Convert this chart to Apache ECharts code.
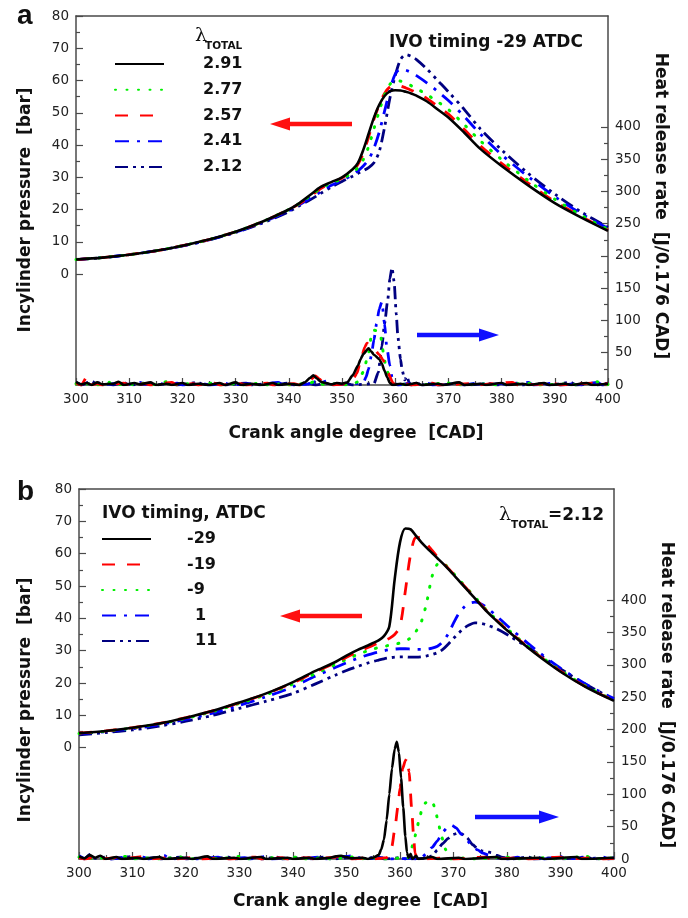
<!DOCTYPE html>
<html><head><meta charset="utf-8">
<script src="https://cdn.jsdelivr.net/npm/echarts@6/dist/echarts.min.js"></script>
<style>html,body{margin:0;padding:0;background:#fff}#c{width:688px;height:918px}</style>
</head><body><div id="c"></div>
<script>
// ---------- DATA ----------
const CAD_A = [300,305,310,315,320,325,330,335,340,342,344,346,348,350,352,353,354,355,356,357,358,359,360,361,362,363,364,366,368,370,373,376,380,385,390,395,400];
const P_A_291 = [4.5,5.1,6.0,7.2,8.8,10.7,13.1,16.2,20.0, 22.0,24.5,27.0,28.5,30.0, 32.5,34.5,38.5,43.5,48.5,52.5,55.2,56.6,57.0, 56.9,56.5,56.0,55.3, 53.5,51.0,48.5,43.8,38.8,33.5, 27.5,22.0,17.5,13.4];
const P_A_277 = [4.5,5.1,6.0,7.2,8.8,10.7,13.1,16.2,20.0, 21.9,24.2,26.6,28.2,29.5, 31.5,33.0,35.5,39.5,45.0,50.5,55.5,58.8,60.0, 59.8,59.2,58.4,57.5, 55.6,53.4,51.0,46.3,41.3,35.5, 29.0,23.2,18.2,13.8];
const P_A_257 = [4.5,5.1,6.0,7.2,8.8,10.7,13.1,16.2,20.0, 21.8,24.0,26.5,28.3,29.8, 32.0,34.0,37.5,42.5,48.0,52.5,56.0,58.0,58.6, 58.3,57.7,57.0,56.2, 54.4,52.0,49.6,44.8,39.8,34.3, 28.2,22.5,17.8,13.6];
const P_A_241 = [4.5,5.1,6.0,7.2,8.7,10.6,13.0,16.0,19.6, 21.5,23.5,25.5,27.5,29.0, 30.8,32.0,33.5,35.5,39.0,44.0,50.5,57.0,62.0, 63.5,63.2,62.5,61.5, 59.2,56.6,53.8,48.8,43.4,37.0, 30.2,24.0,18.7,14.2];
const P_A_212 = [4.5,5.1,6.0,7.2,8.7,10.6,12.9,15.8,19.3, 21.2,23.0,25.0,27.0,28.7, 30.3,31.2,32.0,33.0,34.5,38.0,45.5,54.5,61.5, 66.5,68.0,67.5,66.5, 63.5,60.0,56.5,51.0,45.0,38.5, 31.2,24.8,19.2,14.5];

const CAD_B = [300,305,310,315,320,325,330,335,340,344,348,350,352,354,355,356,357,358,359,360,361,362,363,364,365,366,367,368,369,370,371,372,373,374,375,376,378,380,385,390,395,400];
const P_B_M29 = [4.5,5.2,6.2,7.5,9.3,11.4,14.0,16.8,20.3, 23.6,26.6,28.5,30.2,31.6, 32.4,33.2,34.5,37.5,52.0,63.5,67.8,67.5,65.5,63.5,61.8,60.2,58.6,57.0,55.3,53.5,51.7,49.8,48.0,46.2,44.3, 42.5,39.3,36.3, 29.5,23.5,18.5,14.5];
const P_B_M19 = [4.5,5.2,6.2,7.5,9.3,11.4,13.9,16.7,20.1, 23.3,26.3,28.0,29.6,31.0, 31.7,32.4,33.0,33.8,35.0,37.5,48.5,60.0,65.0,64.8,63.0,61.0,59.0,57.3,55.5,53.7,51.9,50.0,48.2,46.4,44.5, 42.7,39.5,36.5, 29.7,23.7,18.6,14.6];
const P_B_M9 = [4.4,5.1,6.1,7.4,9.1,11.2,13.7,16.4,19.7, 22.8,25.8,27.3,28.8,30.0, 30.5,31.0,31.3,31.7,32.0,32.4,33.0,34.0,36.0,39.0,45.0,53.0,56.8,57.2,55.6,53.9,52.1,50.2,48.4,46.6,44.7, 42.9,39.7,36.8, 29.9,23.9,18.8,14.7];
const P_B_1 = [4.3,5.0,5.9,7.1,8.8,10.7,13.1,15.8,18.8, 22.0,24.9,26.3,27.6,28.7, 29.2,29.6,30.0,30.3,30.5,30.6,30.6,30.5,30.4,30.4,30.5,30.8,31.4,32.8,35.2,38.5,41.5,43.5,44.7,45.0,44.6, 43.6,40.8,37.8, 30.8,24.6,19.4,15.2];
const P_B_11 = [4.0,4.7,5.5,6.7,8.2,10.0,12.2,14.4,16.8, 19.6,22.5,23.9,25.1,26.2, 26.7,27.1,27.5,27.8,28.0,28.1,28.1,28.0,28.0,28.1,28.4,28.8,29.4,30.4,32.0,33.8,35.5,37.0,38.0,38.6,38.5, 38.1,36.8,35.0, 29.9,24.4,19.3,15.0];

// heat release rate, [crank angle, J/0.176 CAD]
const HRR_A_291 = [[300,5],[301,1],[302,3],[303,0],[304,4],[305,1],[307,2],[308,5],[309,0],[311,3],[312,1],[314,4],[315,0],[317,2],[318,0],[320,3],[321,0],[323,2],[325,0],[327,3],[328,0],[330,4],[331,0],[333,2],[335,0],[337,3],[338,0],[340,2],[342,0],[343,4],[344,11],[344.6,15],[345.3,10],[346,5],[347,3],[348,1],[349,3],[350,2],[351,4],[352,15],[353,30],[353.5,40],[354,48],[355,57],[355.5,52],[356,47],[357,40],[357.5,33],[358,22],[358.5,12],[359,3],[359.5,0],[361,2],[362,0],[364,3],[365,0],[368,2],[369,0],[372,4],[373,0],[376,2],[377,0],[380,3],[381,0],[384,2],[385,0],[388,3],[389,0],[392,2],[393,0],[396,3],[397,0],[400,2]];
const HRR_A_277 = [[300,2],[301,0],[303,3],[304,0],[306,5],[307,0],[310,2],[311,0],[313,3],[314,0],[317,5],[318,0],[321,2],[322,0],[326,3],[327,0],[330,2],[331,0],[335,3],[336,0],[339,2],[340,0],[344,3],[345,6],[346,2],[347,0],[349,2],[350,0],[352,1],[353,5],[354,20],[355,50],[355.5,75],[356,85],[356.6,84],[357.2,78],[357.8,50],[358.2,30],[358.8,15],[359.5,3],[360,0],[363,2],[364,0],[370,3],[371,0],[378,2],[379,0],[386,3],[387,0],[393,2],[394,0],[398,5],[399,0],[400,1]];
const HRR_A_257 = [[300,3],[301,0],[302,12],[302.5,0],[304,2],[305,0],[309,3],[310,0],[313,2],[314,0],[318,4],[319,0],[322,2],[323,0],[326,3],[327,0],[331,2],[332,0],[336,3],[337,0],[341,2],[342,0],[343,2],[344,8],[345,14],[345.8,9],[346.5,3],[347.5,0],[350,1],[351,3],[352,8],[352.8,18],[353.5,38],[354.3,59],[354.7,65],[355.2,60],[356.2,54],[357,47],[357.7,39],[358.6,19],[359.6,3],[360,0],[362,2],[363,0],[367,3],[368,0],[374,2],[375,0],[382,4],[383,0],[390,2],[391,0],[397,3],[398,0],[400,2]];
const HRR_A_241 = [[300,4],[301,1],[302,3],[303,0],[305,5],[306,1],[308,3],[309,0],[312,4],[313,1],[316,2],[317,0],[319,3],[320,0],[324,2],[325,0],[328,3],[329,0],[333,2],[334,0],[338,4],[339,0],[343,1],[344,2],[345,5],[346,3],[347,6],[348,2],[350,1],[352,2],[353,2],[354,3],[354.5,12],[355,25],[355.5,45],[356,70],[356.5,95],[357,118],[357.5,129],[358,95],[358.4,60],[359,30],[359.4,12],[360,2],[360.5,0],[363,3],[364,1],[366,3],[367,0],[371,2],[372,0],[376,3],[377,1],[380,2],[381,0],[385,4],[386,0],[390,3],[391,0],[394,2],[395,0],[398,4],[399,0],[400,2]];
const HRR_A_212 = [[300,3],[301,0],[303,6],[304,0],[306,2],[307,0],[309,4],[310,0],[314,2],[315,0],[318,3],[319,0],[323,4],[324,0],[327,2],[328,0],[332,3],[333,0],[336,2],[337,0],[340,3],[341,0],[344,2],[345,0],[347,3],[348,0],[351,2],[352,0],[356,2],[356.8,19],[357.5,60],[358,95],[358.6,132],[359,165],[359.4,182],[359.8,160],[360.2,110],[360.5,75],[361,40],[361.3,23],[361.8,8],[362.2,14],[362.6,4],[363,0],[364,3],[365,0],[367,2],[368,0],[372,3],[373,0],[378,2],[379,0],[383,3],[384,0],[388,2],[389,0],[393,4],[394,0],[397,2],[398,0],[400,3]];

const HRR_B_M29 = [[300,4],[301,1],[302,6],[303,2],[304,5],[305,0],[307,3],[308,0],[311,2],[312,0],[315,3],[316,0],[320,2],[321,0],[324,4],[325,0],[329,2],[330,0],[334,3],[335,0],[339,2],[340,0],[343,2],[344,0],[347,2],[348,4],[349,5],[350,3],[351,1],[353,2],[354,0],[355,2],[356,6],[356.5,15],[357,30],[357.5,60],[358,100],[358.5,140],[359,170],[359.4,181],[359.8,165],[360.2,125],[360.6,80],[361,35],[361.3,10],[361.6,2],[362,8],[362.3,0],[363,5],[363.4,0],[366,3],[367,0],[371,2],[372,0],[378,3],[379,0],[386,2],[387,0],[393,3],[394,0],[400,2]];
const HRR_B_M19 = [[300,2],[301,0],[303,3],[304,0],[307,2],[308,0],[312,4],[313,0],[317,2],[318,0],[322,3],[323,0],[327,2],[328,0],[333,3],[334,0],[338,2],[339,0],[343,2],[344,0],[348,3],[349,4],[350,2],[351,0],[354,2],[355,0],[357.5,2],[358,8],[358.5,20],[359,45],[359.6,80],[360,110],[360.5,140],[361,152],[361.3,156],[361.7,135],[362.2,76],[362.5,40],[362.8,9],[363.2,2],[364,0],[369,2],[370,0],[376,3],[377,0],[383,2],[384,0],[390,3],[391,0],[397,2],[398,0],[400,1]];
const HRR_B_M9 = [[300,3],[301,0],[304,2],[305,0],[309,4],[310,0],[314,2],[315,0],[319,3],[320,0],[325,2],[326,0],[330,4],[331,0],[336,2],[337,0],[341,3],[342,0],[346,2],[347,0],[351,3],[352,0],[356,2],[357,0],[361,2],[361.5,2],[362,12],[362.5,25],[363,40],[363.6,62],[364.2,80],[364.8,87],[365.5,86],[366,89],[366.5,80],[367,63],[367.5,45],[368,30],[368.5,15],[369,3],[369.5,0],[373,2],[374,0],[380,3],[381,0],[388,2],[389,0],[395,4],[396,0],[400,2]];
const HRR_B_1 = [[300,5],[301,1],[302,3],[303,0],[305,4],[306,0],[308,2],[309,0],[312,3],[313,0],[316,5],[317,0],[321,2],[322,0],[326,3],[327,0],[331,2],[332,0],[335,4],[336,0],[340,2],[341,0],[345,3],[346,0],[350,4],[351,5],[352,3],[353,0],[357,2],[358,0],[362,1],[363,0],[364,2],[365,9],[366,18],[367,28],[367.5,34],[368,42],[369,50],[369.7,52],[370.5,48],[371.5,38],[372.5,29],[373.5,20],[374.5,14],[375.5,9],[376.5,6],[377.5,3],[378.5,1],[380,0],[382,3],[383,0],[386,2],[387,0],[390,4],[391,0],[394,2],[395,0],[398,3],[399,0],[400,2]];
const HRR_B_11 = [[300,3],[301,0],[302,7],[303,1],[305,3],[306,0],[310,4],[311,0],[314,2],[315,0],[319,3],[320,0],[323,2],[324,0],[328,3],[329,0],[333,2],[334,0],[337,3],[338,0],[342,2],[343,0],[346,3],[347,0],[351,2],[352,0],[356,3],[357,0],[360,2],[361,0],[365,1],[366,5],[367,14],[368,24],[369,32],[370,38],[370.8,40],[371.5,39],[372.5,33],[373.6,22],[374.5,16],[375.5,12],[376.3,11],[377,10],[378,6],[379,3],[380,1],[381,0],[384,3],[385,0],[389,2],[390,0],[395,3],[396,0],[400,2]];

const NAMES_A = ['2.91','2.77','2.57','2.41','2.12'];
const NAMES_B = ['-29','-19','-9','1','11'];
const P_TICKS = [0,10,20,30,40,50,60,70,80];
const P_MINOR = [5,15,25,35,45,55,65,75];
const H_TICKS = [0,50,100,150,200,250,300,350,400];
const H_MINOR = [25,75,125,175,225,275,325,375];

// ---------- STYLE ----------
const STY = {
  black: {color:'#000000', type:'solid', width:2.6},
  green: {color:'#00f000', type:[1,10.5], width:3, cap:'round'},
  red:   {color:'#ff0000', type:[13,12], width:2.8},
  blue:  {color:'#0000ff', type:[14,8,3,8], width:2.8},
  navy:  {color:'#000080', type:[13,5,3,5,3,5], width:2.8}
};
const FONT = 'DejaVu Sans';
const AX = '#4a4a4a';

function pairs(xs, ys){ return xs.map((x,i)=>[x, ys[i]]); }
function line(name, data, xi, yi, st, smooth, mono){
  const s = {type:'line', name, data, xAxisIndex:xi, yAxisIndex:yi, symbol:'none', showSymbol:false,
    smooth: smooth, animation:false, silent:true,
    itemStyle:{color:st.color},
    lineStyle:{color:st.color, type:st.type, width:st.width, cap:st.cap||'butt'}};
  if (mono) s.smoothMonotone = 'x';
  return s;
}
function xAx(gi, nameGap, pad){
  return [{gridIndex:gi, type:'value', min:300, max:400, interval:10, position:'bottom',
    axisLine:{show:true, onZero:false, lineStyle:{color:AX, width:1.5}},
    axisTick:{inside:true, length:7, lineStyle:{color:AX, width:1.2}},
    minorTick:{show:true, splitNumber:2, length:4, lineStyle:{color:AX, width:1.2}},
    splitLine:{show:false}, minorSplitLine:{show:false},
    axisLabel:{color:'#222', fontSize:13.5, fontFamily:FONT, margin:7},
    name:'Crank angle degree  [CAD]', nameLocation:'middle', nameGap:nameGap,
    nameTextStyle:{fontFamily:FONT, fontWeight:'bold', fontSize:17, color:'#111', padding:[0,0,0,pad]}},
   {gridIndex:gi, type:'value', min:300, max:400, position:'top',
    axisLine:{show:true, onZero:false, lineStyle:{color:AX, width:1.5}},
    axisTick:{show:false}, axisLabel:{show:false}, splitLine:{show:false}}];
}
function yAx(gi, lGap, lPad, rGap, rPad){
  return [
   {gridIndex:gi, type:'value', min:-34.4, max:80, position:'left',
    axisLine:{show:true, onZero:false, lineStyle:{color:AX, width:1.5}},
    axisTick:{inside:true, length:7, customValues:P_TICKS, lineStyle:{color:AX, width:1.2}},
    axisLabel:{customValues:P_TICKS, color:'#222', fontSize:13.5, fontFamily:FONT, margin:7},
    splitLine:{show:false},
    name:'Incylinder pressure  [bar]', nameLocation:'middle', nameRotate:90, nameGap:lGap,
    nameTextStyle:{fontFamily:FONT, fontWeight:'bold', fontSize:17, color:'#111', padding:[0,lPad,0,0]}},
   {gridIndex:gi, type:'value', min:-34.4, max:80, position:'left',
    axisLine:{show:false}, axisLabel:{show:false}, splitLine:{show:false},
    axisTick:{inside:true, length:4, customValues:P_MINOR, lineStyle:{color:AX, width:1.2}}},
   {gridIndex:gi, type:'value', min:0, max:572, position:'right',
    axisLine:{show:true, onZero:false, lineStyle:{color:AX, width:1.5}},
    axisTick:{inside:true, length:7, customValues:H_TICKS, lineStyle:{color:AX, width:1.2}},
    axisLabel:{customValues:H_TICKS, color:'#222', fontSize:13.5, fontFamily:FONT, margin:7},
    splitLine:{show:false},
    name:'Heat release rate  [J/0.176 CAD]', nameLocation:'middle', nameRotate:-90, nameGap:rGap,
    nameTextStyle:{fontFamily:FONT, fontWeight:'bold', fontSize:17, color:'#111', padding:[0,0,0,rPad]}},
   {gridIndex:gi, type:'value', min:0, max:572, position:'right',
    axisLine:{show:false}, axisLabel:{show:false}, splitLine:{show:false},
    axisTick:{inside:true, length:4, customValues:H_MINOR, lineStyle:{color:AX, width:1.2}}}
  ];
}
function arrow(tipX, y, tailX, color){
  const dir = tailX > tipX ? 1 : -1;
  const hx = tipX + dir*20;
  return {type:'polygon', silent:true, shape:{points:[[tipX,y],[hx,y-6.5],[hx,y-2.2],[tailX,y-2.2],[tailX,y+2.2],[hx,y+2.2],[hx,y+6.5]]},
    style:{fill:color}};
}
function txt(x, y, text, font, align){
  return {type:'text', x:x, y:y, silent:true, style:{text:text, font:font, fill:'#111', align:align||'left', verticalAlign:'middle'}};
}

const series = [
  line('2.12', pairs(CAD_A,P_A_212), 0, 0, STY.navy, 0.3),
  line('2.41', pairs(CAD_A,P_A_241), 0, 0, STY.blue, 0.3),
  line('2.57', pairs(CAD_A,P_A_257), 0, 0, STY.red, 0.3),
  line('2.77', pairs(CAD_A,P_A_277), 0, 0, STY.green, 0.3),
  line('2.91', pairs(CAD_A,P_A_291), 0, 0, STY.black, 0.3),
  line('2.12', HRR_A_212, 0, 2, STY.navy, 0.2, true),
  line('2.41', HRR_A_241, 0, 2, STY.blue, 0.2, true),
  line('2.77', HRR_A_277, 0, 2, STY.green, 0.2, true),
  line('2.57', HRR_A_257, 0, 2, STY.red, 0.2, true),
  line('2.91', HRR_A_291, 0, 2, STY.black, 0.2, true),
  line('11', pairs(CAD_B,P_B_11), 2, 4, STY.navy, 0.3),
  line('1', pairs(CAD_B,P_B_1), 2, 4, STY.blue, 0.3),
  line('-9', pairs(CAD_B,P_B_M9), 2, 4, STY.green, 0.3),
  line('-19', pairs(CAD_B,P_B_M19), 2, 4, STY.red, 0.3),
  line('-29', pairs(CAD_B,P_B_M29), 2, 4, STY.black, 0.3),
  line('11', HRR_B_11, 2, 6, STY.navy, 0.2, true),
  line('1', HRR_B_1, 2, 6, STY.blue, 0.2, true),
  line('-9', HRR_B_M9, 2, 6, STY.green, 0.2, true),
  line('-19', HRR_B_M19, 2, 6, STY.red, 0.2, true),
  line('-29', HRR_B_M29, 2, 6, STY.black, 0.2, true)
];

const legendText = {fontFamily:FONT, fontWeight:'bold', fontSize:16, color:'#111', lineHeight:16};
const legendItem = {opacity:0, color:'rgba(0,0,0,0)', borderWidth:0};
const option = {
  backgroundColor:'#fff',
  animation:false,
  grid:[{left:76, top:16, width:532, height:369}, {left:79, top:489, width:535, height:370}],
  xAxis:[...xAx(0, 40, 28), ...xAx(1, 34, 28)],
  yAxis:[...yAx(0, 42, 19, 40, 11), ...yAx(1, 45, 52, 42, 42)],
  legend:[
    {data:NAMES_A, orient:'vertical', left:109, top:51, itemWidth:49, itemHeight:14, itemGap:9.75,
     selectedMode:false, itemStyle:legendItem, textStyle:Object.assign({padding:[0,0,0,34]}, legendText)},
    {data:NAMES_B, orient:'vertical', left:96, top:526, itemWidth:49, itemHeight:14, itemGap:9.5,
     selectedMode:false, itemStyle:legendItem, formatter:n => (n.charAt(0)==='-' ? n : '\u2002'+n),
     textStyle:Object.assign({padding:[0,0,0,31]}, legendText)}
  ],
  graphic:[
    {type:'text', left:17, top:2, silent:true, style:{text:'a', font:'bold 28px "Liberation Sans"', fill:'#111'}},
    {type:'text', left:17, top:478, silent:true, style:{text:'b', font:'bold 28px "Liberation Sans"', fill:'#111'}},
    txt(389, 43, 'IVO timing -29 ATDC', 'bold 17px "DejaVu Sans"'),
    txt(195, 36, 'λ', '19px "DejaVu Serif"'),
    txt(205, 46, 'TOTAL', 'bold 10.5px "DejaVu Sans"'),
    txt(102, 514, 'IVO timing, ATDC', 'bold 17px "DejaVu Sans"'),
    txt(499, 515.5, 'λ', '19px "DejaVu Serif"'),
    txt(511, 525, 'TOTAL', 'bold 10.5px "DejaVu Sans"'),
    txt(548, 516, '=2.12', 'bold 17px "DejaVu Sans"'),
    arrow(270, 124, 352, '#ff1010'),
    arrow(499, 335, 417, '#1010ff'),
    arrow(280, 616, 362, '#ff1010'),
    arrow(559, 817, 475, '#1010ff')
  ],
  series: series
};
const chart = echarts.init(document.getElementById('c'), null, {renderer:'canvas'});
chart.setOption(option);
</script></body></html>
